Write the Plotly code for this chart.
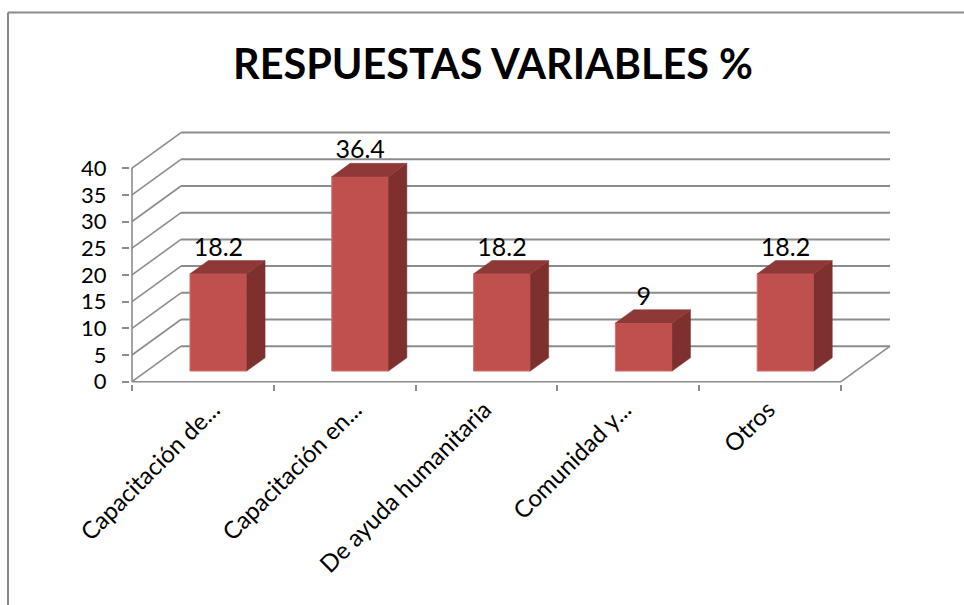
import plotly.graph_objects as go

categories = ["Capacitación de...", "Capacitación en...", "De ayuda humanitaria", "Comunidad y...", "Otros"]
values = [18.2, 36.4, 18.2, 9, 18.2]
y_ticks = [0, 5, 10, 15, 20, 25, 30, 35, 40]
title_text = "RESPUESTAS VARIABLES %"

# 3D projection, expressed in axis units
PX_X = 141.8
PX_Y = 5.34
DEPTH_X = 49 / PX_X
DEPTH_Y = 35.5 / PX_Y
BAR_W = 0.4
FRONT_F = 0.315
BACK_F = 0.69

GRID = "#8C8C8C"
FACE = "#C0504D"
EDGE = "#D5706C"
SIDE = "#7D302E"
TOP = "#8E3937"
FONT = "Lato"
TXT = "#000000"

# plot rectangle in pixels
L, R, T, B = 130, 893, 131, 384
x_min = -0.5 - (132 - L) / PX_X
x_max = x_min + (R - L) / PX_X
y_min = -(B - 381.7) / PX_Y
y_max = y_min + (B - T) / PX_Y
n = len(categories)
x_end = n - 0.5

shapes = []
def line(x0, y0, x1, y1, w=1.6):
    shapes.append(dict(type="line", xref="x", yref="y", x0=x0, y0=y0, x1=x1, y1=y1,
                       layer="below", line=dict(color=GRID, width=w)))

for v in y_ticks:
    line(-0.5, v, -0.5 + DEPTH_X, v + DEPTH_Y)
    line(-0.5 + DEPTH_X, v + DEPTH_Y, x_end + DEPTH_X, v + DEPTH_Y, 2)
line(-0.5, y_ticks[0], -0.5, y_ticks[-1])
line(-0.5, 0, x_end, 0)
line(x_end, 0, x_end + DEPTH_X, DEPTH_Y)

# outer chart frame (open at the right and bottom of the picture)
for x0, y0, x1, y1 in [(8, 12.5, 975, 12.5), (8, 12.5, 8, 615)]:
    shapes.append(dict(type="line", xref="paper", yref="paper",
                       x0=(x0 - L) / (R - L), x1=(x1 - L) / (R - L),
                       y0=(B - y0) / (B - T), y1=(B - y1) / (B - T),
                       line=dict(color="#8A8A8A", width=2)))

fig = go.Figure()
idx = list(range(n))
fx = [i + DEPTH_X * FRONT_F for i in idx]
base = DEPTH_Y * 0.3
fig.add_trace(go.Bar(x=fx, y=values, base=base, width=BAR_W,
                     marker=dict(color=FACE, line=dict(color=EDGE, width=1)),
                     showlegend=False, hoverinfo="skip"))

dd_x = DEPTH_X * (BACK_F - FRONT_F)
dd_y = DEPTH_Y * (BACK_F - FRONT_F)
for cx, v in zip(fx, values):
    xr = cx + BAR_W / 2
    xl = cx - BAR_W / 2
    top = base + v
    fig.add_trace(go.Scatter(x=[xr, xr + dd_x, xr + dd_x, xr, xr], y=[base, base + dd_y, top + dd_y, top, base],
                             mode="lines", fill="toself", fillcolor=SIDE, line=dict(color=SIDE, width=0.5),
                             showlegend=False, hoverinfo="skip"))
    fig.add_trace(go.Scatter(x=[xl, xl + dd_x, xr + dd_x, xr, xl], y=[top, top + dd_y, top + dd_y, top, top],
                             mode="lines", fill="toself", fillcolor=TOP, line=dict(color=TOP, width=0.5),
                             showlegend=False, hoverinfo="skip"))

fig.add_trace(go.Scatter(x=fx, y=[base + v + 24.5 / PX_Y for v in values],
                         text=[str(v) for v in values], mode="text", textposition="middle center",
                         textfont=dict(family=FONT, size=25, color=TXT), cliponaxis=False,
                         showlegend=False, hoverinfo="skip"))

label_nudge_px = [-6, -6, -18, -20, -18]

fig.update_layout(
    width=964, height=605,
    margin=dict(l=L, r=964 - R, t=T, b=605 - B, autoexpand=False),
    paper_bgcolor="white", plot_bgcolor="white",
    shapes=shapes, showlegend=False,
    title=dict(text=title_text, x=493 / 964, y=1 - 65 / 605, xanchor="center", yanchor="middle",
               font=dict(family=FONT, size=41.4, color=TXT, weight="bold")),
    xaxis=dict(range=[x_min, x_max], tickmode="array",
               tickvals=[i + d / PX_X for i, d in zip(idx, label_nudge_px)], ticktext=categories,
               tickangle=-45, ticks="", ticklabelstandoff=6, ticklabelshift=16,
               tickfont=dict(family=FONT, size=24, color=TXT),
               showgrid=False, zeroline=False, showline=False,
               minor=dict(tickmode="array", tickvals=[i - 0.5 for i in range(n + 1)], ticks="outside",
                          ticklen=6, tickwidth=1.5, tickcolor=GRID, showgrid=False)),
    yaxis=dict(range=[y_min, y_max], tickmode="array", tickvals=y_ticks, ticks="outside", ticklen=7,
               tickwidth=1.5, tickcolor=GRID, ticklabelstandoff=11, tickfont=dict(family=FONT, size=22, color=TXT),
               showgrid=False, zeroline=False, showline=False),
)
fig.write_html("out.html", config={"displayModeBar": False},
               post_script="document.body.style.margin='0';document.body.style.overflow='hidden';")
